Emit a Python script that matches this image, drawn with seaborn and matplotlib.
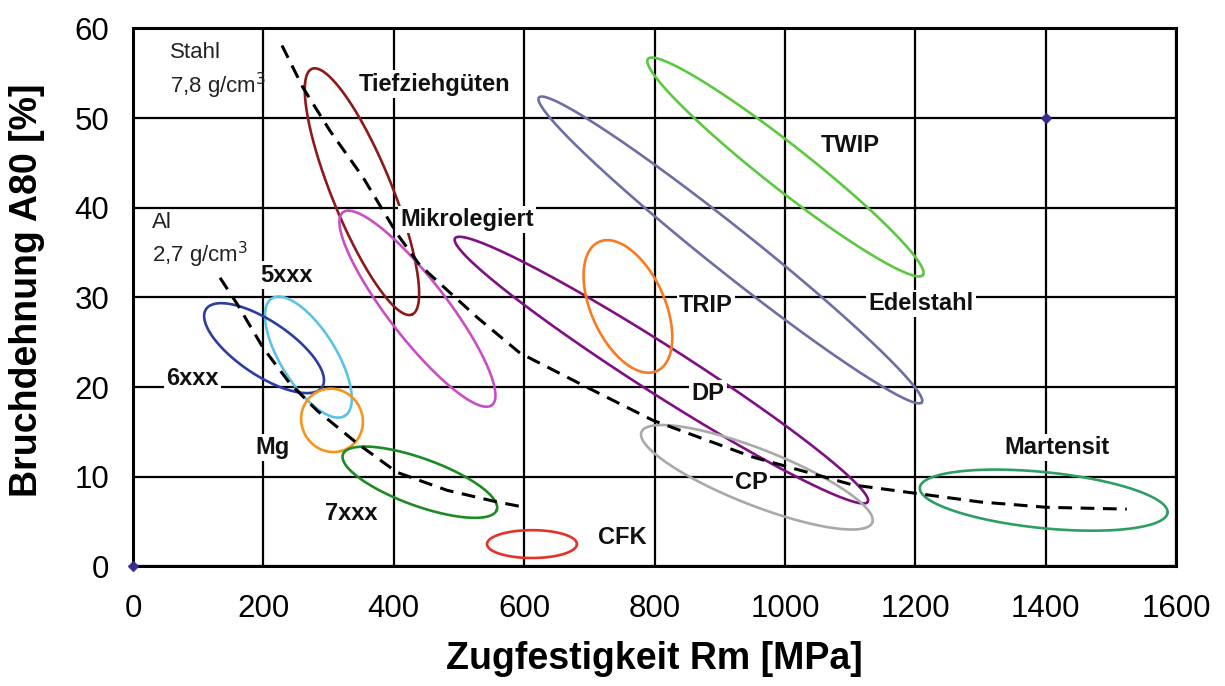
import numpy as np
import pandas as pd
import matplotlib
matplotlib.use("Agg")
import matplotlib.pyplot as plt
import seaborn as sns

# ---------------- data ----------------
# material regions: major-axis endpoints (MPa, %) and minor/major ratio
region_names = ["Tiefziehgüten", "Mikrolegiert", "5xxx", "6xxx", "Mg", "7xxx", "CFK",
                "DP", "TRIP", "CP", "Edelstahl", "TWIP", "Martensit"]
end1_x = [274.5, 322.0, 213.0, 112.0, 280.7, 322.0, 543.0, 494.0, 714.7, 780.0, 622.7, 790.0, 1207.0]
end1_y = [55.5, 39.5, 29.9, 28.7, 19.4, 12.5, 2.5, 36.6, 36.2, 15.0, 52.3, 56.6, 8.8]
end2_x = [427.9, 550.6, 325.0, 290.0, 329.8, 558.0, 681.0, 1127.0, 803.7, 1134.0, 1210.0, 1211.7, 1587.0]
end2_y = [28.1, 18.0, 16.8, 20.0, 13.2, 6.3, 2.5, 7.2, 21.8, 4.9, 18.3, 32.5, 6.0]
minor_ratio = [0.226, 0.24, 0.40, 0.386, 0.95, 0.29, 0.31, 0.098, 0.52, 0.226, 0.09, 0.126, 0.225]
region_colors = ["#8C1A1A", "#C84EC8", "#5BC2E8", "#2B3DA0", "#F7941D", "#1E8A24", "#E53228",
                 "#7F0F82", "#F97A22", "#A9A9A9", "#6E6EA6", "#5CC840", "#2E9E62"]

# region label positions
label_x = [462, 512, 236, 91, 214, 334, 750, 882, 879, 949, 1209, 1100, 1417]
label_y = [53.8, 38.7, 32.5, 21.0, 13.3, 5.95, 3.2, 19.3, 29.1, 9.4, 29.3, 46.9, 13.3]

# trend curves
steel_x = [228.5, 260.7, 302, 352.8, 405, 440, 527.6, 593.6, 696, 797.5, 951, 1104, 1207, 1299, 1402, 1524.5]
steel_y = [58.1, 53.4, 48.6, 43.4, 37.1, 33.6, 27.8, 23.8, 20.0, 16.3, 12.2, 9.1, 8.1, 7.2, 6.6, 6.4]
al_x = [133.4, 159.5, 199.4, 240.8, 282.2, 343.6, 405, 481.6, 558.3, 601.2]
al_y = [32.2, 29.3, 24.4, 20.4, 17.4, 13.75, 10.5, 8.5, 7.2, 6.6]

# marker points
pt_x = [0, 1400]
pt_y = [0, 50]

x_ticks = [0, 200, 400, 600, 800, 1000, 1200, 1400, 1600]
y_ticks = [0, 10, 20, 30, 40, 50, 60]

# ---------------- style ----------------
sns.set_theme(style="white")
plt.rcParams["font.family"] = ["Liberation Sans", "DejaVu Sans"]
plt.rcParams["text.color"] = "black"
plt.rcParams["axes.labelcolor"] = "black"

fig = plt.figure(figsize=(12.25, 6.86), dpi=100)
ax = fig.add_axes([0.1086, 0.1742, 0.8514, 0.7843])
ax.set_xlim(0, 1600)
ax.set_ylim(0, 60)
ax.set_xticks(x_ticks)
ax.set_yticks(y_ticks)
ax.grid(True, color="black", linewidth=1.6)
ax.set_axisbelow(True)
for s in ax.spines.values():
    s.set_color("black")
    s.set_linewidth(2.2)
ax.tick_params(axis="both", direction="out", length=6, width=1.6, color="black",
               labelcolor="black", labelsize=22.5)
ax.tick_params(axis="y", pad=11)
ax.tick_params(axis="x", pad=14)

fig.canvas.draw()
T = ax.transData
Ti = T.inverted()

t = np.linspace(0, 2 * np.pi, 400)
for i, nm in enumerate(region_names):
    p1 = T.transform((end1_x[i], end1_y[i]))
    p2 = T.transform((end2_x[i], end2_y[i]))
    c = (p1 + p2) / 2
    A = (p2 - p1) / 2
    B = np.array([-A[1], A[0]]) * minor_ratio[i]
    pts = c + np.outer(np.cos(t), A) + np.outer(np.sin(t), B)
    dpts = Ti.transform(pts)
    df = pd.DataFrame({"x": dpts[:, 0], "y": dpts[:, 1]})
    sns.lineplot(data=df, x="x", y="y", sort=False, estimator=None, color=region_colors[i],
                 linewidth=1.9, ax=ax, zorder=3)

curves = pd.concat([
    pd.DataFrame({"x": steel_x, "y": steel_y, "g": "Stahl"}),
    pd.DataFrame({"x": al_x, "y": al_y, "g": "Al"}),
])
for g, d in curves.groupby("g"):
    ax.plot(d["x"], d["y"], color="black", linewidth=2.2, dashes=(4.5, 2.8), zorder=4)

sns.scatterplot(x=pt_x, y=pt_y, marker="D", s=30, color="#3A2A8C", edgecolor="#3A2A8C",
                ax=ax, zorder=6, clip_on=False)

for i, nm in enumerate(region_names):
    ax.text(label_x[i], label_y[i], nm, ha="center", va="center", fontsize=17,
            fontweight="bold", color="#111111", zorder=5,
            bbox=dict(facecolor="white", edgecolor="none", pad=1.5))

ax.text(57, 57.3, "Stahl", ha="left", va="center", fontsize=16, color="#222222")
ax.text(57, 53.6, "7,8 g/cm$^3$", ha="left", va="center", fontsize=16, color="#222222")
ax.text(29, 38.4, "Al", ha="left", va="center", fontsize=16, color="#222222")
ax.text(29, 34.7, "2,7 g/cm$^3$", ha="left", va="center", fontsize=16, color="#222222")

ax.set_xlabel("Zugfestigkeit Rm [MPa]", fontsize=27, fontweight="bold")
ax.set_ylabel("Bruchdehnung A80 [%]", fontsize=27, fontweight="bold")
ax.xaxis.set_label_coords(0.5, -0.138)
ax.yaxis.set_label_coords(-0.0845, 0.513)
ax.set_xlim(0, 1600)
ax.set_ylim(0, 60)

fig.savefig("out.png", dpi=100)
